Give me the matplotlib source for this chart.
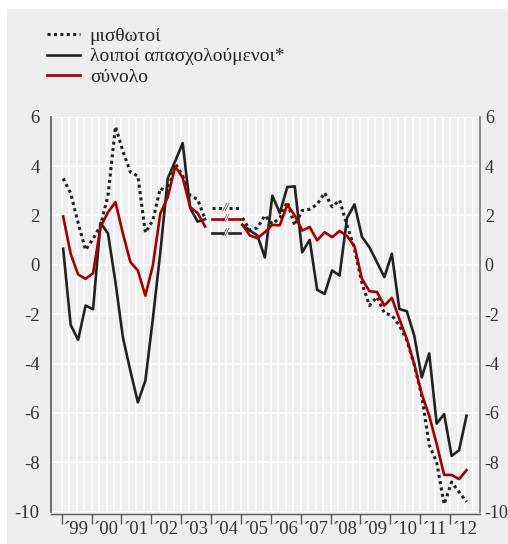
import numpy as np
import matplotlib.pyplot as plt
from matplotlib.patches import Rectangle
from matplotlib.transforms import offset_copy

plt.rcParams['font.family'] = ['Liberation Serif', 'DejaVu Serif']

# quarterly data, 1999Q1 .. 2012Q3 (index 0 .. 54); 2004 is not shown
nan = np.nan
wages = [3.5, 2.9, 1.7, 0.6, 1.05, 1.6, 2.8, 5.6, 4.6, 3.75, 3.6, 1.3, 1.8, 3.1,
         2.95, 4.1, 3.6, 2.8, 2.65, 1.85,
         nan, nan, nan, nan,
         1.9, 1.4, 1.5, 2.0, 1.65, 1.9, 2.55, 1.6, 2.2, 2.25, 2.45, 2.92, 2.35,
         2.62, 1.6, 0.65, -0.75, -1.65, -1.3, -1.95, -2.05, -2.45, -3.05, -4.05,
         -5.3, -7.3, -8.0, -9.7, -8.8, -9.2, -9.6]
others = [0.65, -2.43, -3.04, -1.65, -1.8, 1.7, 1.27, -0.7, -2.95, -4.3, -5.57,
          -4.69, -2.2, 0.5, 3.5, 4.2, 4.93, 2.3, 1.75, 1.85,
          nan, nan, nan, nan,
          1.62, 1.39, 1.19, 0.3, 2.8, 2.1, 3.15, 3.18, 0.51, 1.01, -1.01, -1.18,
          -0.23, -0.43, 1.9, 2.45, 1.13, 0.71, 0.11, -0.5, 0.45, -1.79, -1.88,
          -2.87, -4.56, -3.59, -6.43, -6.05, -7.74, -7.51, -6.11]
total = [1.96, 0.45, -0.39, -0.57, -0.34, 1.53, 2.13, 2.54, 1.26, 0.11, -0.23,
         -1.25, -0.03, 2.07, 2.74, 3.99, 3.53, 2.34, 2.1, 1.55,
         nan, nan, nan, nan,
         1.62, 1.19, 1.08, 1.32, 1.62, 1.6, 2.43, 2.0, 1.39, 1.53, 0.99, 1.32,
         1.12, 1.37, 1.17, 0.75, -0.57, -1.07, -1.1, -1.65, -1.34, -2.19, -3.0,
         -4.02, -5.23, -6.11, -7.26, -8.51, -8.51, -8.68, -8.32]
# levels of the broken segments drawn over 2004
break_wages, break_others, break_total = 2.3, 1.3, 1.85

year_labels = ["´99", "´00", "´01", "´02", "´03", "´04", "´05",
               "´06", "´07", "´08", "´09", "´10", "´11", "´12"]
labels = ["μισθωτοί", "λοιποί απασχολούμενοι*", "σύνολο"]
yt = list(range(-10, 7, 2))

red = '#a50000'
blk = '#222222'
bg = '#eeeeee'

x = np.arange(len(total))
off = -0.2  # quarter boundaries sit a little before each point

fig = plt.figure(figsize=(5.08, 5.44), dpi=100)
fig.patch.set_facecolor('white')
fig.patches.append(Rectangle((7 / 508, 0), 1, 535 / 544, transform=fig.transFigure,
                             facecolor=bg, edgecolor='none', zorder=-10))

ax = fig.add_axes([50.7 / 508, (544 - 511.7) / 544, (480 - 50.7) / 508, 395 / 544])
ax.set_facecolor(bg)
ax.set_xlim(-1.67, 55.8)
ax.set_ylim(-10, 6)

# white quarter grid and horizontal grid
for q in range(56):
    ax.axvline(q + off, color='white', lw=1.1, zorder=0)
for v in yt:
    ax.axhline(v, color='white', lw=1.3, zorder=0)

ax.plot(x, wages, color=blk, lw=2.2, linestyle=(0, (1, 1.1)), label=labels[0])
ax.plot(x, others, color=blk, lw=1.9, label=labels[1])
ax.plot(x, total, color=red, lw=1.9, label=labels[2])

# broken segments for 2004
for lev, c, ls, lw in [(break_wages, blk, (0, (1, 1.1)), 2.2),
                       (break_total, red, '-', 1.9),
                       (break_others, blk, '-', 1.9)]:
    ax.plot([19.9, 21.35], [lev, lev], color=c, lw=lw, linestyle=ls)
    ax.plot([22.2, 23.65], [lev, lev], color=c, lw=lw, linestyle=ls)
    ax.text(21.78, lev, '//', color=c, fontsize=8.5, ha='center', va='center',
            style='italic')

# axes styling
ax.spines['top'].set_visible(False)
ax.spines['left'].set_color('#555555')
ax.spines['right'].set_color('#777777')
ax.spines['left'].set_linewidth(1.2)
ax.spines['right'].set_linewidth(1.2)
ax.spines['bottom'].set_color('#555555')
ax.spines['bottom'].set_linewidth(1.0)
ax.spines['bottom'].set_position(('outward', 1.5))

ax.set_yticks(yt)
ax.set_yticklabels([str(v) for v in yt])
ax.tick_params(axis='y', which='both', length=0, labelsize=13.5, pad=8,
               labelcolor='#333333')

# right-hand labels, set close to the spine
rtrans = offset_copy(ax.get_yaxis_transform(), fig=fig, x=3.5, y=0, units='points')
for v in yt:
    ax.text(1.0, v, str(v), transform=rtrans, ha='left', va='center_baseline',
            fontsize=13, color='#333333', clip_on=False)

ax.set_xticks([off + 4 * i for i in range(14)])
ax.set_xticklabels([])
ax.set_xticks([off + 4 * i + 2 for i in range(14)], minor=True)
ax.set_xticklabels(year_labels, minor=True)
ax.tick_params(axis='x', which='major', length=7, width=1.0, color='#555555',
               direction='out')
ax.tick_params(axis='x', which='minor', length=0, pad=5, labelsize=13.5,
               labelcolor='#333333')

fig.legend(loc='upper left', bbox_to_anchor=(47 / 508, 1 - 27 / 544),
           frameon=False, fontsize=14, handlelength=1.7, handletextpad=0.5,
           labelspacing=0.16, borderpad=0, borderaxespad=0,
           labelcolor='#222222')

fig.savefig('out.png', dpi=100, facecolor=fig.get_facecolor())
